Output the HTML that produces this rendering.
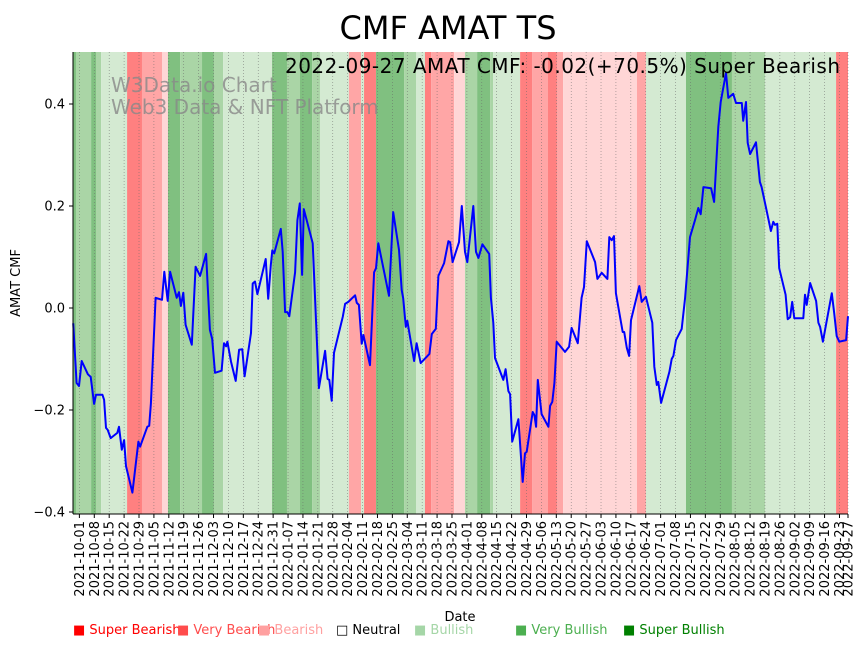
<!DOCTYPE html>
<html><head><meta charset="utf-8"><style>
body{margin:0;background:#fff;width:867px;height:646px;overflow:hidden;font-family:"DejaVu Sans","Liberation Sans",sans-serif}
svg{display:block}
text{font-family:"DejaVu Sans","Liberation Sans",sans-serif}
</style></head><body>
<svg id="chart" width="867" height="646" viewBox="0 0 867 646" xmlns="http://www.w3.org/2000/svg">
<g id="bands"></g>
<g id="grid"></g>
<text x="111" y="92" font-size="20" fill="#888" fill-opacity="0.8">W3Data.io Chart</text>
<text x="111" y="114" font-size="20" fill="#888" fill-opacity="0.8">Web3 Data &amp; NFT Platform</text>
<path id="line" fill="none" stroke="#0000ff" stroke-width="2" stroke-linejoin="round"></path>
<line x1="73" y1="52" x2="73" y2="514" stroke="#000"/>
<line x1="73" y1="514" x2="848" y2="514" stroke="#000"/>
<g id="yticks"></g>
<g id="xticks"></g>
<text x="448" y="39" font-size="32" text-anchor="middle">CMF AMAT TS</text>
<text x="840" y="73" font-size="20" text-anchor="end" textLength="555">2022-09-27 AMAT CMF: -0.02(+70.5%) Super Bearish</text>
<text x="20" y="283" font-size="13" text-anchor="middle" transform="rotate(-90 20 283)">AMAT CMF</text>
<text x="460" y="621" font-size="13" text-anchor="middle">Date</text>
<g font-size="13">
<text x="73" y="634" fill="#ff0000">■ Super Bearish</text>
<text x="177" y="634" fill="#ff4c4c">■ Very Bearish</text>
<text x="258" y="634" fill="#ffa0a0">■ Bearish</text>
<text x="336" y="634" fill="#000">□ Neutral</text>
<text x="414" y="634" fill="#a5d6a7">■ Bullish</text>
<text x="515" y="634" fill="#4caf50">■ Very Bullish</text>
<text x="623" y="634" fill="#008000">■ Super Bullish</text>
</g>
</svg>
<script>
// day offsets from 2021-09-28
const days=[0.1,1.7,2.8,4.1,7.0,8.3,9.9,10.8,13.8,14.6,15.5,16.3,17.7,20.8,21.6,22.9,24.0,24.9,27.9,30.7,31.5,34.9,35.8,36.6,38.8,41.8,42.9,44.5,45.6,48.7,49.8,50.7,51.8,52.9,55.8,57.6,59.7,62.5,64.3,65.4,66.7,69.8,70.9,71.9,72.5,74.2,76.4,78.0,79.5,80.6,83.6,84.4,85.5,86.6,90.5,91.7,92.9,93.6,94.5,97.6,98.5,99.6,100.7,101.6,104.3,105.4,106.5,107.6,108.4,112.6,115.5,118.4,119.6,120.4,121.5,122.6,126.7,127.8,129.3,132.5,133.3,134.3,135.6,136.4,139.5,141.4,142.3,143.4,148.4,150.4,153.1,154.4,155.1,156.3,157.0,160.2,161.4,163.3,167.4,168.5,170.4,171.6,174.3,176.3,177.1,178.3,181.3,182.6,184.1,185.2,188.0,189.3,190.4,192.3,195.5,196.3,197.4,198.2,202.1,203.2,204.5,205.3,206.3,209.2,211.2,212.3,213.1,215.9,216.7,217.5,218.3,220.1,223.3,224.1,225.1,226.1,227.2,231.1,233.0,234.2,237.1,238.9,240.0,241.3,245.2,246.3,248.3,251.0,251.9,253.0,254.1,255.0,258.2,258.9,260.1,261.2,262.1,266.0,267.1,269.1,272.1,273.0,274.2,274.9,276.2,280.1,281.2,282.0,283.2,285.9,287.5,289.8,292.2,293.7,294.8,296.1,299.7,301.1,303.1,304.2,306.7,307.8,310.1,311.4,314.1,314.8,316.1,316.9,318.0,320.8,322.6,323.4,325.0,327.8,328.9,329.7,330.8,331.7,334.7,335.7,336.8,337.8,338.8,343.0,343.8,344.6,346.2,349.0,350.1,350.9,352.2,356.4,357.5,358.7,359.9,363.1,364.0];
const cmf=[-0.03,-0.147,-0.153,-0.104,-0.13,-0.135,-0.188,-0.17,-0.17,-0.18,-0.235,-0.239,-0.255,-0.245,-0.233,-0.278,-0.259,-0.31,-0.362,-0.262,-0.272,-0.233,-0.231,-0.187,0.02,0.016,0.071,0.014,0.071,0.02,0.031,0.004,0.03,-0.033,-0.072,0.081,0.063,0.106,-0.043,-0.061,-0.127,-0.123,-0.069,-0.075,-0.066,-0.105,-0.143,-0.082,-0.081,-0.134,-0.049,0.048,0.052,0.027,0.096,0.018,0.084,0.113,0.107,0.155,0.11,-0.008,-0.008,-0.016,0.07,0.172,0.205,0.065,0.194,0.127,-0.157,-0.084,-0.139,-0.141,-0.182,-0.088,-0.017,0.008,0.012,0.025,0.01,0.006,-0.07,-0.053,-0.112,0.07,0.078,0.127,0.024,0.188,0.114,0.035,0.019,-0.037,-0.025,-0.104,-0.069,-0.108,-0.09,-0.051,-0.041,0.063,0.088,0.131,0.129,0.09,0.129,0.2,0.11,0.09,0.2,0.11,0.098,0.125,0.106,0.02,-0.029,-0.098,-0.141,-0.12,-0.163,-0.169,-0.262,-0.218,-0.341,-0.285,-0.282,-0.204,-0.21,-0.233,-0.141,-0.208,-0.233,-0.192,-0.184,-0.147,-0.066,-0.086,-0.076,-0.039,-0.069,0.02,0.041,0.131,0.09,0.057,0.069,0.057,0.139,0.133,0.141,0.029,-0.047,-0.047,-0.078,-0.094,-0.024,0.043,0.012,0.022,-0.029,-0.115,-0.151,-0.145,-0.186,-0.125,-0.1,-0.094,-0.063,-0.041,0.02,0.139,0.173,0.196,0.184,0.237,0.235,0.208,0.355,0.404,0.461,0.412,0.42,0.402,0.402,0.367,0.404,0.324,0.302,0.325,0.247,0.237,0.206,0.151,0.169,0.163,0.165,0.078,0.026,-0.022,-0.018,0.012,-0.02,-0.02,0.026,0.006,0.049,0.014,-0.029,-0.037,-0.066,0.029,-0.01,-0.055,-0.066,-0.063,-0.016];
const bandEdges=[0,1.4,8.5,10.8,13.2,25.4,32.4,41.8,44.6,50.3,60.6,66.2,70.5,93.5,100.5,106.6,112.3,116,129.6,135.3,136.7,142.3,155.5,161.1,165.3,168.2,179,184.1,189.8,195.9,197.3,210,215.6,223.1,227.3,230.2,264.9,269.1,287.9,309.5,325,358.4,364];
const bandCats=['G1','G2','G1','G2','G3','R1','R2','R3','G1','G2','G1','G2','G3','G1','G2','G1','G2','G3','R2','G3','R1','G1','G2','G3','R1','R2','R3','G2','G1','G2','G3','R1','R2','R1','R2','R3','R2','G3','G1','G2','G3','R1'];
const yTicks=[-0.4,-0.2,0.0,0.2,0.4];
const yTickLabels=['−0.4','−0.2','0.0','0.2','0.4'];
const catColors={G1:'#80c080',G2:'#aad5a6',G3:'#d4ead2',R1:'#ff8080',R2:'#ffa6a6',R3:'#ffd6d6'};
const NS='http://www.w3.org/2000/svg';
const X0=73,X1=848,D0=0,D1=364;
const x=d=>X0+(d-D0)*(X1-X0)/(D1-D0);
const y=v=>308-v*510;
function mk(tag,attrs,parent){const e=document.createElementNS(NS,tag);for(const k in attrs)e.setAttribute(k,attrs[k]);parent.appendChild(e);return e;}
const bands=document.getElementById('bands');
bandCats.forEach((c,i)=>{
  const r=mk('rect',{x:x(bandEdges[i]),y:52,width:Math.max(0,x(bandEdges[i+1])-x(bandEdges[i])),height:462,fill:catColors[c]},bands);
  
  
});
const grid=document.getElementById('grid'),xt=document.getElementById('xticks');
const start=new Date(Date.UTC(2021,8,28));
const tickDays=[];for(let d=3;d<=360;d+=7)tickDays.push(d);tickDays.push(364);
tickDays.forEach(d=>{
  const dt=new Date(start.getTime()+d*86400000);
  const lab=dt.toISOString().slice(0,10);
  const xx=x(d);
  const g=mk('line',{x1:xx,y1:52,x2:xx,y2:514,stroke:'#666','stroke-width':0.6,'stroke-opacity':0.8,'stroke-dasharray':'1,2'},grid);
  
  
  const t=mk('line',{x1:xx,y1:514,x2:xx,y2:518,stroke:'#000'},xt);
  
  
  const tx=mk('text',{x:xx+4.5,y:521,'font-size':13,'text-anchor':'end',transform:`rotate(-90 ${xx+4.5} 521)`},xt);
  tx.textContent=lab;
  
  
});
const yt=document.getElementById('yticks');
yTicks.forEach((v,i)=>{
  const l=mk('line',{x1:69,y1:y(v),x2:73,y2:y(v),stroke:'#000'},yt);
  
  
  const t=mk('text',{x:65,y:y(v)+4.5,'font-size':13,'text-anchor':'end'},yt);
  t.textContent=yTickLabels[i];
  
  
});
document.getElementById('line').setAttribute('d',days.map((d,i)=>(i?'L':'M')+x(d).toFixed(1)+','+y(cmf[i]).toFixed(1)).join(''));
</script>
</body></html>
